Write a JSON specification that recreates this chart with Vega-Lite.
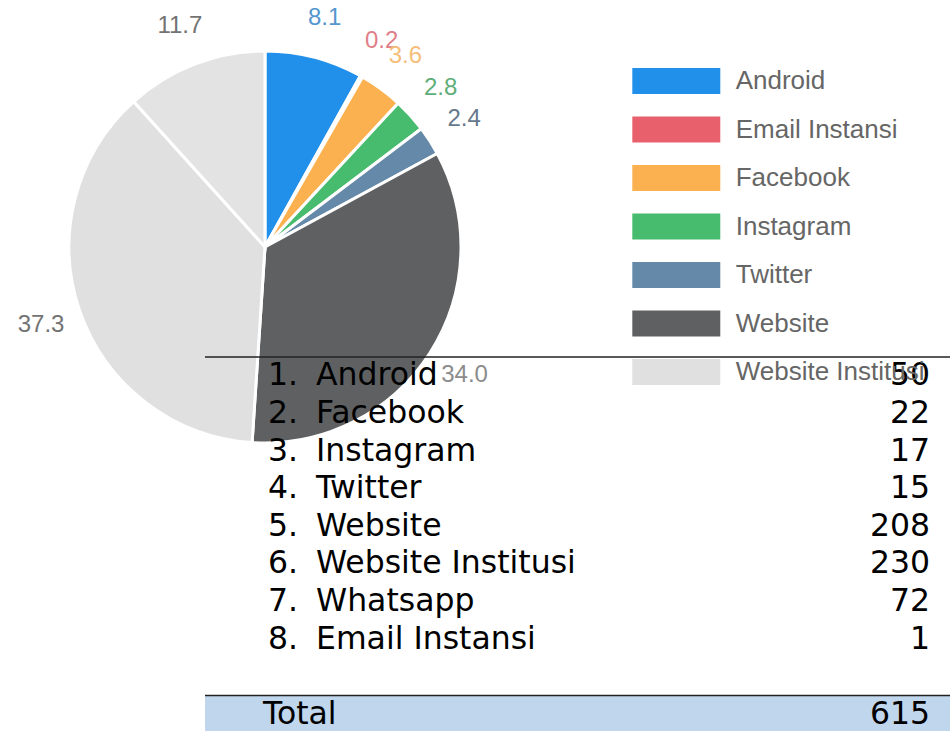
{
  "$schema": "https://vega.github.io/schema/vega-lite/v6.json",
  "width": 950,
  "height": 731,
  "autosize": {"type": "none"},
  "padding": 0,
  "background": "#ffffff",
  "config": {"view": {"stroke": null}},
  "datasets": {
    "slices": [
      {"name": "Android", "pct": 8.1},
      {"name": "Email Instansi", "pct": 0.2},
      {"name": "Facebook", "pct": 3.6},
      {"name": "Instagram", "pct": 2.8},
      {"name": "Twitter", "pct": 2.4},
      {"name": "Website", "pct": 34.0},
      {"name": "Website Institusi", "pct": 37.3},
      {"name": "Whatsapp", "pct": 11.7}
    ],
    "table": [
      {"no": "1.", "source": "Android", "count": 50},
      {"no": "2.", "source": "Facebook", "count": 22},
      {"no": "3.", "source": "Instagram", "count": 17},
      {"no": "4.", "source": "Twitter", "count": 15},
      {"no": "5.", "source": "Website", "count": 208},
      {"no": "6.", "source": "Website Institusi", "count": 230},
      {"no": "7.", "source": "Whatsapp", "count": 72},
      {"no": "8.", "source": "Email Instansi", "count": 1}
    ],
    "total": [
      {"source": "Total", "count": 615}
    ]
  },
  "layer": [
    {
      "data": {"name": "slices"},
      "mark": {"type": "arc", "x": 265, "y": 247, "outerRadius": 196, "stroke": "#ffffff", "strokeWidth": 3},
      "encoding": {
        "theta": {"field": "pct", "type": "quantitative", "stack": true},
        "color": {
          "field": "name",
          "type": "nominal",
          "scale": {
            "domain": ["Android", "Email Instansi", "Facebook", "Instagram", "Twitter", "Website", "Website Institusi", "Whatsapp"],
            "range": ["#2190ea", "#e8606c", "#fbb14f", "#47bb6e", "#6589a8", "#5f6062", "#e0e0e0", "#e3e3e3"]
          },
          "legend": {
            "orient": "none",
            "legendX": 661.3,
            "legendY": 66,
            "title": null,
            "padding": 0,
            "values": ["Android", "Email Instansi", "Facebook", "Instagram", "Twitter", "Website", "Website Institusi"],
            "symbolType": "M-3,-0.886H3V0.886H-3Z",
            "symbolSize": 860,
            "symbolStrokeWidth": 0,
            "symbolOpacity": 1,
            "labelFont": "Liberation Sans",
            "labelFontSize": 26,
            "labelColor": "#666666",
            "labelOffset": 44.4,
            "labelLimit": 400,
            "rowPadding": 20.5
          }
        }
      }
    },
    {
      "data": {"name": "slices"},
      "mark": {"type": "text", "x": 265, "y": 247, "radius": 237, "font": "Liberation Sans", "fontSize": 24, "align": "center", "baseline": "middle"},
      "encoding": {
        "theta": {"field": "pct", "type": "quantitative", "stack": true},
        "text": {"field": "pct", "type": "quantitative", "format": ".1f"},
        "fill": {
          "field": "name",
          "type": "nominal",
          "scale": {
            "domain": ["Android", "Email Instansi", "Facebook", "Instagram", "Twitter", "Website", "Website Institusi", "Whatsapp"],
            "range": ["#5596cf", "#e07f89", "#f6be78", "#5fae7a", "#66788c", "#8c8c8c", "#737373", "#737373"]
          },
          "legend": null
        }
      }
    },
    {
      "data": {"name": "total"},
      "mark": {"type": "rect", "x": 205, "x2": 950, "fill": "#c0d6ec"},
      "encoding": {
        "y": {
          "field": "source",
          "type": "nominal",
          "axis": null,
          "scale": {
            "domain": ["Android", "Facebook", "Instagram", "Twitter", "Website", "Website Institusi", "Whatsapp", "Email Instansi", " ", "Total"],
            "range": [357, 733],
            "paddingInner": 0,
            "paddingOuter": 0
          }
        }
      }
    },
    {
      "data": {"name": "total"},
      "mark": {"type": "rule", "x": 205, "x2": 950, "stroke": "#222222", "strokeWidth": 1.5},
      "encoding": {
        "y": {"field": "source", "type": "nominal", "bandPosition": 0}
      }
    },
    {
      "data": {"name": "table"},
      "transform": [{"filter": "datum.no == '1.'"}],
      "mark": {"type": "rule", "x": 205, "x2": 950, "stroke": "#222222", "strokeWidth": 1.5},
      "encoding": {
        "y": {"field": "source", "type": "nominal", "bandPosition": 0}
      }
    },
    {
      "data": {"name": "table"},
      "mark": {"type": "text", "x": 268, "align": "left", "baseline": "alphabetic", "dy": 9.5, "font": "DejaVu Sans", "fontSize": 31.5, "fill": "#000000"},
      "encoding": {
        "y": {"field": "source", "type": "nominal"},
        "text": {"field": "no"}
      }
    },
    {
      "data": {"name": "table"},
      "mark": {"type": "text", "x": 316, "align": "left", "baseline": "alphabetic", "dy": 9.5, "font": "DejaVu Sans", "fontSize": 31.5, "fill": "#000000"},
      "encoding": {
        "y": {"field": "source", "type": "nominal"},
        "text": {"field": "source"}
      }
    },
    {
      "data": {"name": "table"},
      "mark": {"type": "text", "x": 930, "align": "right", "baseline": "alphabetic", "dy": 9.5, "font": "DejaVu Sans", "fontSize": 31.5, "fill": "#000000"},
      "encoding": {
        "y": {"field": "source", "type": "nominal"},
        "text": {"field": "count", "type": "quantitative"}
      }
    },
    {
      "data": {"name": "total"},
      "mark": {"type": "text", "x": 263, "align": "left", "baseline": "alphabetic", "dy": 9.5, "font": "DejaVu Sans", "fontSize": 31.5, "fill": "#000000"},
      "encoding": {
        "y": {"field": "source", "type": "nominal"},
        "text": {"field": "source"}
      }
    },
    {
      "data": {"name": "total"},
      "mark": {"type": "text", "x": 930, "align": "right", "baseline": "alphabetic", "dy": 9.5, "font": "DejaVu Sans", "fontSize": 31.5, "fill": "#000000"},
      "encoding": {
        "y": {"field": "source", "type": "nominal"},
        "text": {"field": "count", "type": "quantitative"}
      }
    }
  ]
}
